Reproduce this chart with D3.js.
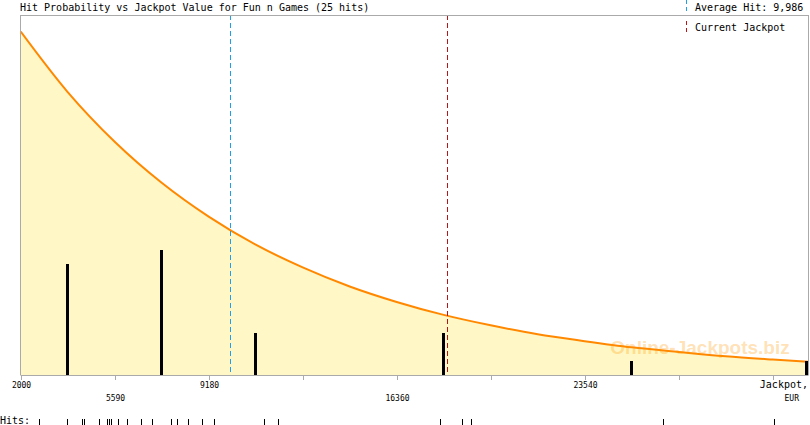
<!DOCTYPE html>
<html>
<head>
<meta charset="utf-8">
<script src="https://cdn.jsdelivr.net/npm/d3@7"></script>
<style>
  body { margin: 0; background: #fff; }
  svg { display: block; font-family: "DejaVu Sans Mono", monospace; }
</style>
</head>
<body>
<div id="chart"></div>
<script>
const WIDTH = 810;
const HEIGHT = 425;
const LEFT = 20.7;
const RIGHT = 808;
const TOP = 15;
const BOTTOM = 375;

// jackpot value samples (EUR) and read hit probability (share of plot height)
const curveJackpot = [2000, 3795, 5590, 7385, 9180, 10975, 12770, 14565, 16360,
  18155, 19950, 21745, 23540, 25335, 27130, 28925, 30720, 32070];
const curveProb = [0.954, 0.786, 0.648, 0.534, 0.440, 0.362, 0.299, 0.246, 0.203,
  0.167, 0.138, 0.113, 0.094, 0.077, 0.064, 0.052, 0.043, 0.037];

// histogram bins (centres) and hit counts
const binCentres = [3795, 7385, 10975, 14565, 18155, 21745, 25335, 28925, 32515];
const binCounts = [8, 9, 3, 0, 3, 0, 1, 0, 1];

// individual hits (EUR)
const hits = [2710, 3780, 4352, 4406, 5002, 5307, 5384, 5460, 5727, 6048, 6594,
  7003, 7751, 7958, 8378, 8390, 8935, 9382, 11292, 11826, 18013, 18842, 19185,
  26518, 30760];

const tickValues = [2000, 5590, 9180, 12770, 16360, 19950, 23540, 27130, 30720];
const tickLabels = ["2000", "5590", "9180", "", "16360", "", "23540", "", ""];

const averageHit = 9986;
const currentJackpot = 18290;
const title = "Hit Probability vs Jackpot Value for Fun n Games (25 hits)";

const BLUE = "#1f9fe6";
const RED = "#b81414";

const svg = d3.select("#chart").append("svg")
  .attr("width", WIDTH)
  .attr("height", HEIGHT);

const x = d3.scaleLinear().domain([2000, 32070]).range([LEFT, RIGHT]);
const y = d3.scaleLinear().domain([0, 1]).range([BOTTOM, TOP]);
const yCount = d3.scaleLinear().domain([0, 26]).range([BOTTOM, TOP]);
const px = v => Math.round(x(v)) + 0.5;

svg.append("defs").append("clipPath").attr("id", "plot")
  .append("rect").attr("x", LEFT).attr("y", TOP)
  .attr("width", RIGHT - LEFT).attr("height", BOTTOM - TOP);

const plot = svg.append("g").attr("clip-path", "url(#plot)");

const pts = curveJackpot.map((v, i) => [v, curveProb[i]]);

// area under probability curve
plot.append("path")
  .datum(pts)
  .attr("fill", "#fff8c6")
  .attr("d", d3.area().x(d => x(d[0])).y0(BOTTOM).y1(d => y(d[1]))
    .curve(d3.curveMonotoneX));

// watermark
svg.append("text")
  .attr("x", 700).attr("y", 354)
  .attr("text-anchor", "middle")
  .style("font-family", "Liberation Sans, Arial, sans-serif")
  .style("font-weight", "bold")
  .style("font-size", "19px")
  .attr("fill", "#ff9900")
  .attr("fill-opacity", 0.3)
  .text("Online-Jackpots.biz");

// probability curve
plot.append("path")
  .datum(pts)
  .attr("fill", "none")
  .attr("stroke", "#ff8800")
  .attr("stroke-width", 2)
  .attr("d", d3.line().x(d => x(d[0])).y(d => y(d[1]))
    .curve(d3.curveMonotoneX));

// hit count bars
plot.selectAll(".bar")
  .data(binCentres.map((c, i) => ({ c, n: binCounts[i] })).filter(d => d.n > 0))
  .join("rect")
  .attr("class", "bar")
  .attr("x", d => Math.round(Math.min(x(d.c), RIGHT - 2) - 1.5))
  .attr("y", d => Math.round(yCount(d.n)))
  .attr("width", 3)
  .attr("height", d => BOTTOM - Math.round(yCount(d.n)))
  .attr("fill", "#000");

// average hit and current jackpot lines
svg.append("line")
  .attr("x1", px(averageHit)).attr("x2", px(averageHit))
  .attr("y1", TOP).attr("y2", BOTTOM)
  .attr("shape-rendering", "crispEdges")
  .attr("stroke", BLUE).attr("stroke-dasharray", "5,3");

svg.append("line")
  .attr("x1", px(currentJackpot)).attr("x2", px(currentJackpot))
  .attr("y1", TOP).attr("y2", BOTTOM)
  .attr("shape-rendering", "crispEdges")
  .attr("stroke", RED).attr("stroke-dasharray", "5,3");

// frame
svg.append("path")
  .attr("d", `M20.5,${BOTTOM}V${TOP + 0.5}H${RIGHT + 0.5}V${BOTTOM}`)
  .attr("fill", "none")
  .attr("shape-rendering", "crispEdges")
  .attr("stroke", "#aaaaaa");

// x axis
let labelRow = 0;
const axis = svg.append("g")
  .attr("transform", `translate(0,${BOTTOM})`)
  .call(d3.axisBottom(x).tickValues(tickValues).tickSize(5).tickSizeOuter(0)
    .tickFormat((d, i) => tickLabels[i]));
axis.select(".domain").attr("stroke", "#aaaaaa").attr("d", `M20.5,0.5H${RIGHT + 0.5}`);
axis.selectAll(".tick").attr("transform", d => `translate(${px(d)},0)`);
axis.selectAll(".tick line").attr("stroke", "#aaaaaa");
axis.selectAll(".tick text")
  .style("font-family", "DejaVu Sans Mono, monospace")
  .style("font-size", "8px")
  .attr("fill", "#000")
  .attr("y", 0)
  .attr("dy", 0)
  .each(function (d, i) {
    if (!tickLabels[i]) return;
    d3.select(this).attr("y", labelRow % 2 === 0 ? 13 : 26);
    labelRow++;
  });

svg.append("text")
  .attr("x", RIGHT).attr("y", 388)
  .attr("text-anchor", "end")
  .style("font-size", "10px")
  .text("Jackpot,");
svg.append("text")
  .attr("x", 799).attr("y", 401)
  .attr("text-anchor", "end")
  .style("font-size", "8px")
  .text("EUR");

// hits strip
svg.append("text")
  .attr("x", 0).attr("y", 424)
  .style("font-size", "10px")
  .text("Hits:");
svg.selectAll(".hit")
  .data(hits)
  .join("line")
  .attr("class", "hit")
  .attr("x1", d => px(d))
  .attr("x2", d => px(d))
  .attr("y1", 419).attr("y2", 425)
  .attr("stroke", "#000");

// title
svg.append("text")
  .attr("x", 20).attr("y", 11)
  .style("font-size", "10px")
  .text(title);

// legend
svg.append("text")
  .attr("x", 695).attr("y", 11)
  .style("font-size", "10px")
  .text("Average Hit: " + d3.format(",")(averageHit));
svg.append("line")
  .attr("x1", 686.5).attr("x2", 686.5).attr("y1", 0).attr("y2", 11)
  .attr("shape-rendering", "crispEdges")
  .attr("stroke", BLUE).attr("stroke-dasharray", "4,3");

svg.append("text")
  .attr("x", 695).attr("y", 31)
  .style("font-size", "10px")
  .text("Current Jackpot");
svg.append("line")
  .attr("x1", 686.5).attr("x2", 686.5).attr("y1", 21).attr("y2", 34)
  .attr("shape-rendering", "crispEdges")
  .attr("stroke", RED).attr("stroke-dasharray", "4,3");
</script>
</body>
</html>
